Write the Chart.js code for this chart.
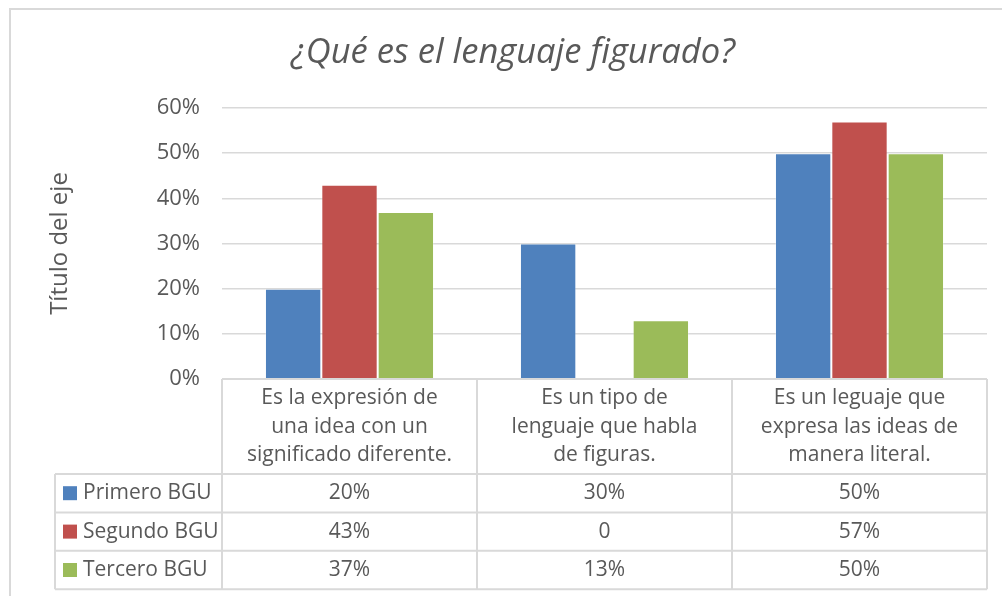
<!DOCTYPE html>
<html>
<head>
<meta charset="utf-8">
<script src="https://cdn.jsdelivr.net/npm/chart.js@4"></script>
<style>
  html, body { margin: 0; padding: 0; background: #fff; }
  #wrap { width: 1002px; height: 596px; position: relative; }
</style>
</head>
<body>
<div id="wrap"><canvas id="chart"></canvas></div>
<script>
const categories = [
  ['Es la expresión de', 'una idea con un', 'significado diferente.'],
  ['Es un tipo de', 'lenguaje que habla', 'de figuras.'],
  ['Es un leguaje que', 'expresa las ideas de', 'manera literal.']
];
const seriesNames = ['Primero BGU', 'Segundo BGU', 'Tercero BGU'];
const primero = [20, 30, 50];
const segundo = [43, 0, 57];
const tercero = [37, 13, 50];
const yTicks = [0, 10, 20, 30, 40, 50, 60];
const colors = ['#4F81BD', '#C0504D', '#9BBB59'];

const FONT = '"Open Sans", Lato, sans-serif';
const TEXT = '#595959';
const LINE = '#d9d9d9';

const fmt = v => v === 0 ? '0' : v + '%';

// border round the chart + data table under the plot
const tablePlugin = {
  id: 'dataTable',
  beforeDraw(chart) {
    const { ctx } = chart;
    ctx.save();
    ctx.strokeStyle = LINE;
    ctx.lineWidth = 2;
    ctx.strokeRect(10, 9, 1100, 700);
    ctx.restore();
  },
  afterDraw(chart) {
    const { ctx, chartArea } = chart;
    const x = chart.scales.x;
    const left = chartArea.left, right = chartArea.right;
    const top = chartArea.bottom;
    const colW = (right - left) / categories.length;
    const headH = 95;
    const rowH = 38.4;
    const legLeft = 55;
    const bottom = top + headH + rowH * seriesNames.length;

    ctx.save();
    ctx.strokeStyle = LINE;
    ctx.lineWidth = 2;
    ctx.beginPath();
    // horizontal lines
    ctx.moveTo(left, top); ctx.lineTo(right, top);
    for (let r = 0; r <= seriesNames.length; r++) {
      const y = top + headH + r * rowH;
      ctx.moveTo(legLeft, y); ctx.lineTo(right, y);
    }
    // vertical lines
    for (let c = 0; c <= categories.length; c++) {
      const xx = left + c * colW;
      ctx.moveTo(xx, top); ctx.lineTo(xx, bottom);
    }
    ctx.moveTo(legLeft, top + headH); ctx.lineTo(legLeft, bottom);
    ctx.stroke();

    ctx.fillStyle = TEXT;
    ctx.font = '21px ' + FONT;
    ctx.textAlign = 'center';
    ctx.textBaseline = 'middle';
    categories.forEach((lines, i) => {
      const cx = x.getPixelForValue(i);
      lines.forEach((ln, k) => ctx.fillText(ln, cx, top + 19 + k * 28.7));
    });

    const rows = [primero, segundo, tercero];
    rows.forEach((vals, r) => {
      const cy = top + headH + r * rowH + rowH / 2;
      vals.forEach((v, i) => {
        ctx.textAlign = 'center';
        ctx.fillStyle = TEXT;
        ctx.fillText(fmt(v), x.getPixelForValue(i), cy);
      });
      ctx.fillStyle = colors[r];
      ctx.fillRect(63, cy - 7, 14, 14);
      ctx.fillStyle = TEXT;
      ctx.textAlign = 'left';
      ctx.fillText(seriesNames[r], 83, cy);
    });
    ctx.restore();
  }
};

const datasets = [primero, segundo, tercero].map((data, i) => ({
  label: seriesNames[i],
  data,
  backgroundColor: colors[i],
  borderColor: 'rgba(255,255,255,0.25)',
  borderWidth: 1,
  categoryPercentage: 0.663,
  barPercentage: 1
}));

new Chart(document.getElementById('chart'), {
  type: 'bar',
  data: { labels: categories, datasets },
  options: {
    responsive: true,
    maintainAspectRatio: false,
    animation: false,
    layout: { padding: { left: 39, right: 15, top: 0, bottom: 217 } },
    plugins: {
      legend: { display: false },
      tooltip: { enabled: false },
      title: {
        display: true,
        text: '¿Qué es el lenguaje figurado?',
        color: TEXT,
        font: { family: FONT, size: 34.5, style: 'italic', weight: 'normal' },
        padding: { top: 32, bottom: 34.6 }
      }
    },
    scales: {
      x: { display: false },
      y: {
        min: 0,
        max: 60,
        afterFit: s => { s.width = 183; },
        afterBuildTicks: s => { s.ticks = yTicks.map(v => ({ value: v })); },
        ticks: {
          color: TEXT,
          padding: 22,
          font: { family: FONT, size: 22 },
          callback: v => v + '%'
        },
        grid: { color: LINE, lineWidth: 1.5, drawTicks: false },
        border: { display: false },
        title: {
          display: true,
          text: 'Título del eje',
          color: TEXT,
          font: { family: FONT, size: 24 },
          padding: { top: 6.6, bottom: 0 }
        }
      }
    }
  },
  plugins: [tablePlugin]
});
</script>
</body>
</html>
